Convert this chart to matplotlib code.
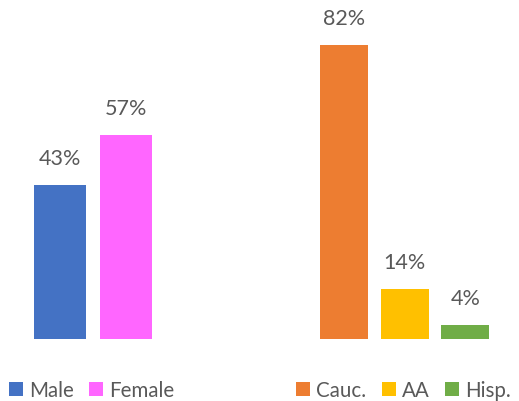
import matplotlib
matplotlib.use('Agg')
import matplotlib.pyplot as plt

plt.rcParams['font.family'] = ['Lato', 'DejaVu Sans']

# gender split
gender_labels = ['Male', 'Female']
gender_values = [43, 57]
gender_colors = ['#4472C4', '#FF66FF']

# race split
race_labels = ['Cauc.', 'AA', 'Hisp.']
race_values = [82, 14, 4]
race_colors = ['#ED7D31', '#FFC000', '#70AD47']

text_color = '#595959'

fig = plt.figure(figsize=(5.19, 4.02), dpi=100)

W, H = 519, 402
bottom = (H - 340) / H
height = 330 / H
ax1 = fig.add_axes([27 / W, bottom, 132 / W, height])
ax2 = fig.add_axes([314 / W, bottom, 181.5 / W, height])


def draw(ax, labels, values, colors):
    x = range(len(values))
    bars = ax.bar(x, values, width=0.79, color=colors, label=labels)
    for b, v in zip(bars, values):
        ax.text(b.get_x() + b.get_width() / 2, v + 4.7, f'{v}%',
                ha='center', va='bottom', fontsize=15.5, color=text_color)
    ax.set_xlim(-0.5, len(values) - 0.5)
    ax.set_ylim(0, 92)
    ax.axis('off')
    return bars


b1 = draw(ax1, gender_labels, gender_values, gender_colors)
b2 = draw(ax2, race_labels, race_values, race_colors)

leg_kw = dict(frameon=False, fontsize=14.8, handlelength=0.68, handleheight=0.68,
              handletextpad=0.3, columnspacing=0.75, borderaxespad=0,
              borderpad=0, labelcolor=text_color)
fig.legend(b1, gender_labels, ncol=2, loc='center left',
           bbox_to_anchor=(9 / W, 1 - 391 / H), **leg_kw)
fig.legend(b2, race_labels, ncol=3, loc='center left',
           bbox_to_anchor=(296 / W, 1 - 391 / H), **leg_kw)

fig.savefig('out.png', dpi=100)
